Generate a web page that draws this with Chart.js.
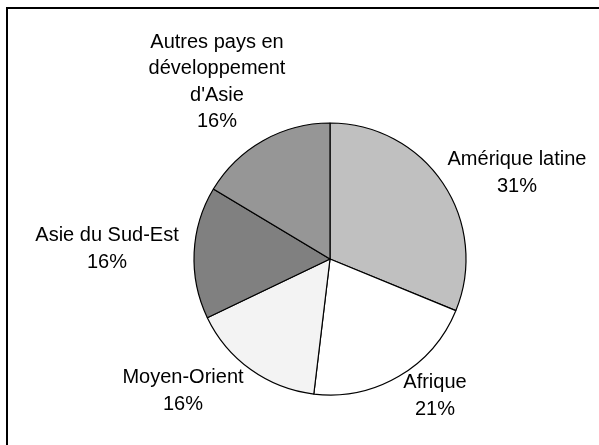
<!DOCTYPE html>
<html>
<head>
<meta charset="utf-8">
<script src="https://cdn.jsdelivr.net/npm/chart.js@4"></script>
<style>
  body { margin: 0; overflow: hidden; background: #fff; }
  #frame { position: absolute; left: 6px; top: 7px; width: 700px; height: 600px; border: 2px solid #000; }
  #pie { position: absolute; left: 0; top: 0; }
</style>
</head>
<body>
<div id="frame"></div>
<canvas id="pie" width="599" height="445"></canvas>
<script>
// data
const categories = [
  ["Amérique latine"],
  ["Afrique"],
  ["Moyen-Orient"],
  ["Asie du Sud-Est"],
  ["Autres pays en", "développement", "d'Asie"],
];
const shares = [31.2, 20.7, 16.0, 15.7, 16.4];
const sliceColors = ["#c0c0c0", "#ffffff", "#f3f3f3", "#808080", "#969696"];

// where each label block sits, relative to the pie centre
const labelOffsets = [
  [187, -86],
  [105, 137],
  [-147, 132],
  [-223, -10],
  [-113, -177],
];

const pieLabels = {
  id: "pieLabels",
  afterDatasetsDraw(chart) {
    const ctx = chart.ctx;
    const meta = chart.getDatasetMeta(0);
    const cx = meta.data[0].x;
    const cy = meta.data[0].y;
    const total = shares.reduce((a, b) => a + b, 0);
    const lineH = 26.3;
    ctx.save();
    ctx.font = "20px 'Liberation Sans', Arial, sans-serif";
    ctx.fillStyle = "#000";
    ctx.textAlign = "center";
    ctx.textBaseline = "middle";
    categories.forEach((lines, i) => {
      const all = lines.concat([Math.round(shares[i] / total * 100) + "%"]);
      const x = cx + labelOffsets[i][0];
      const y0 = cy + labelOffsets[i][1] - (all.length - 1) * lineH / 2;
      all.forEach((t, k) => ctx.fillText(t, x, y0 + k * lineH));
    });
    ctx.restore();
  },
};

new Chart(document.getElementById("pie").getContext("2d"), {
  type: "pie",
  data: {
    labels: categories,
    datasets: [
      {
        data: shares,
        backgroundColor: sliceColors,
        borderColor: "#000",
        borderWidth: 1.2,
      },
    ],
  },
  options: {
    responsive: false,
    animation: false,
    devicePixelRatio: 1,
    radius: 136,
    layout: { padding: { left: 190, right: 129, top: 119, bottom: 46 } },
    plugins: {
      legend: { display: false },
      tooltip: { enabled: false },
    },
  },
  plugins: [pieLabels],
});
</script>
</body>
</html>
